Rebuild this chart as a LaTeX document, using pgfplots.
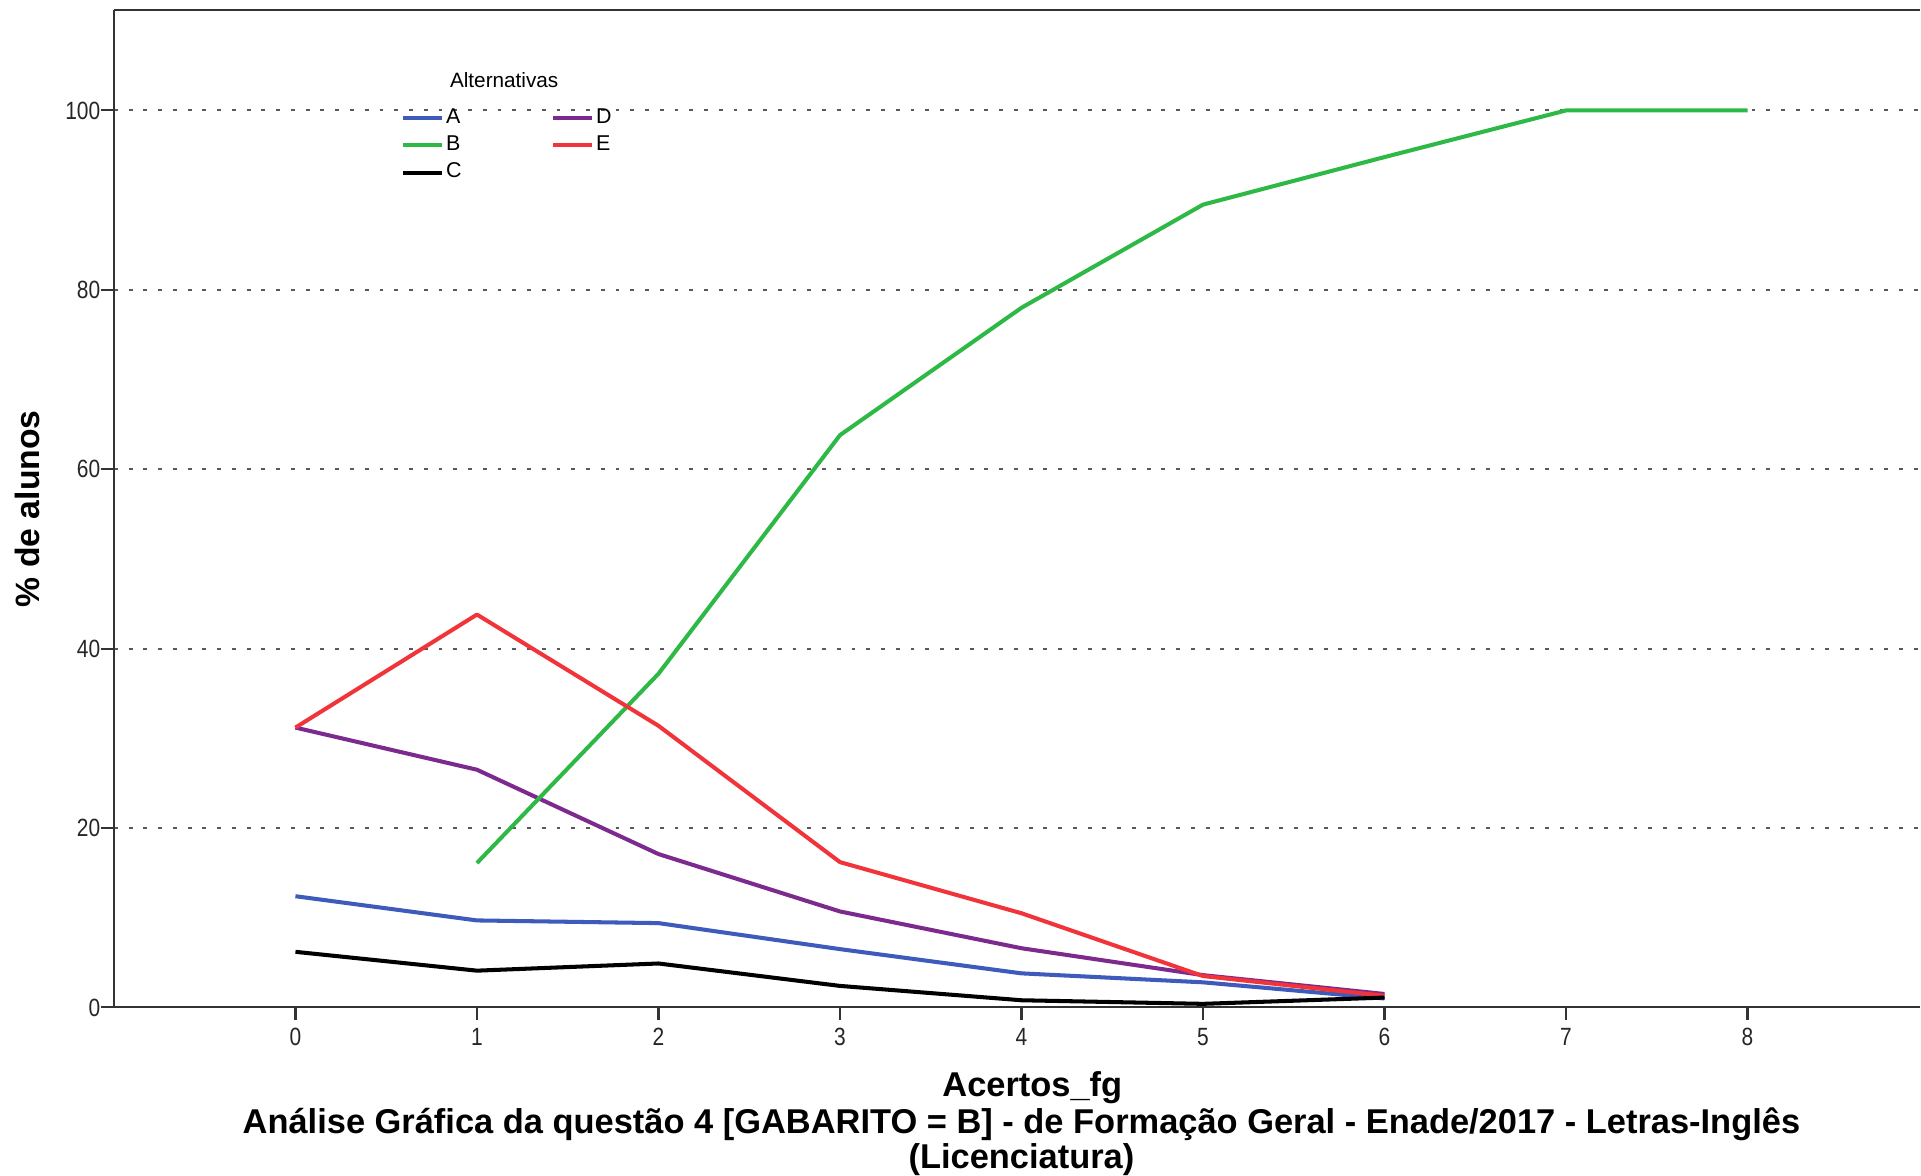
\documentclass[border=0pt]{standalone}
\usepackage{pgfplots}
\pgfplotsset{compat=1.18}
\usepackage{fontspec}
\setmainfont{Liberation Sans}
\newfontfamily\ticknarrow{Liberation Sans}[FakeStretch=0.84]
\definecolor{cA}{RGB}{62,90,186}
\definecolor{cB}{RGB}{46,184,70}
\definecolor{cC}{RGB}{0,0,0}
\definecolor{cD}{RGB}{125,42,142}
\definecolor{cE}{RGB}{240,52,58}
\definecolor{axcol}{RGB}{51,51,51}
\begin{document}
\begin{tikzpicture}
\begin{axis}[
  name=main,
  scale only axis,
  width=18.07cm, height=9.98cm,
  xmin=-1, xmax=8.95, ymin=0, ymax=111.2,
  axis x line=box, axis y line=left,
  axis line style={-, draw=axcol, line width=0.6pt},
  xtick={0,1,2,3,4,5,6,7,8},
  ytick={0,20,40,60,80,100},
  tick align=outside,
  major tick length=0.13cm,
  tick style={draw=axcol, line width=0.6pt},
  xtick pos=bottom, ytick pos=left,
  /pgf/number format/assume math mode=true,
  tick label style={font=\ticknarrow\fontsize{7.1}{8}\selectfont, text=black!85},
  xticklabel style={anchor=north, inner sep=0pt, yshift=-0.07cm},
  yticklabel style={anchor=east, inner sep=0pt},
  ymajorgrids,
  major grid style={draw=black!65, line width=0.6pt, dash pattern=on 1.1pt off 3.1pt},
  xlabel={Acertos\_fg},
  xlabel style={font=\bfseries\fontsize{9.8}{10}\selectfont, at={(axis description cs:0.5085,0)}, anchor=center, yshift=-0.80cm, inner sep=0pt},
  ylabel={\% de alunos},
  ylabel style={font=\bfseries\fontsize{9.6}{10}\selectfont, at={([xshift=-0.87cm]axis description cs:0,0.5)}, anchor=center, inner sep=0pt},
  legend columns=2,
  legend cell align=left,
  legend image code/.code={\draw[#1] (0cm,0cm) -- (0.39cm,0cm);},
  legend style={draw=none, fill=none, font=\fontsize{6.1}{7}\selectfont,
    at={(axis cs:0.58,100.5)}, anchor=north west,
    inner sep=0pt, row sep=1.0pt,
    nodes={inner sep=0.5pt},
    /tikz/every even column/.append style={column sep=0.88cm}},
  every axis plot/.append style={line width=1.15pt, line join=round},
  clip=false,
]
\addplot[cA] coordinates {(0,12.4)(1,9.7)(2,9.4)(3,6.5)(4,3.8)(5,2.8)(6,1.0)};
\addlegendentry{A}
\addplot[cD] coordinates {(0,31.2)(1,26.5)(2,17.1)(3,10.7)(4,6.6)(5,3.6)(6,1.5)};
\addlegendentry{D}
\addplot[cB] coordinates {(1,16.1)(2,37.2)(3,63.8)(4,78.0)(5,89.5)(6,94.8)(7,100)(8,100)};
\addlegendentry{B}
\addplot[cE] coordinates {(0,31.2)(1,43.8)(2,31.4)(3,16.2)(4,10.5)(5,3.5)(6,1.3)};
\addlegendentry{E}
\addplot[cC] coordinates {(0,6.2)(1,4.1)(2,4.9)(3,2.4)(4,0.8)(5,0.4)(6,1.1)};
\addlegendentry{C}
\node[font=\fontsize{5.9}{7}\selectfont, anchor=center, inner sep=0pt] at (axis cs:1.15,103.4) {Alternativas};
\node[font=\bfseries\fontsize{9.8}{10}\selectfont, align=center, anchor=center, inner sep=0pt] at ([yshift=-1.34cm]axis description cs:0.5025,0)
  {Análise Gráfica da questão 4 [GABARITO = B] - de Formação Geral - Enade/2017 - Letras-Inglês\\(Licenciatura)};
\end{axis}
\path ([xshift=-1.14cm,yshift=0.10cm]main.north west) rectangle ([yshift=-1.68cm]main.south east);
\end{tikzpicture}
\end{document}
